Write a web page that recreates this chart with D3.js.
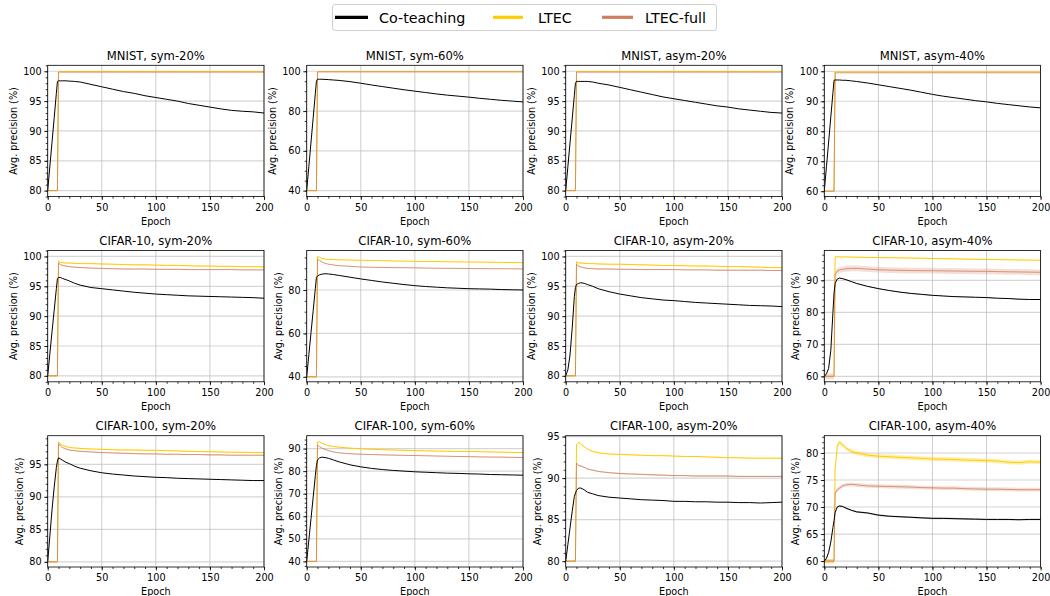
<!DOCTYPE html>
<html><head><meta charset="utf-8">
<script src="https://cdn.jsdelivr.net/npm/d3@7"></script>
<style>body{margin:0;background:#fff} text{font-family:"DejaVu Sans",sans-serif;fill:#000}</style>
</head><body><svg id="c" width="1050" height="596"></svg>
<script>
const seriesNames = ["Co-teaching", "LTEC", "LTEC-full"];
const epochs = [0,2,4,6,8,9,10,12,14,17,20,25,30,40,50,60,70,80,90,100,110,120,130,140,150,160,170,180,190,200];
const panelTitles = ["MNIST, sym-20%","MNIST, sym-60%","MNIST, asym-20%","MNIST, asym-40%",
  "CIFAR-10, sym-20%","CIFAR-10, sym-60%","CIFAR-10, asym-20%","CIFAR-10, asym-40%",
  "CIFAR-100, sym-20%","CIFAR-100, sym-60%","CIFAR-100, asym-20%","CIFAR-100, asym-40%"];
const xTicks = [0,50,100,150,200];
const yLimits = [[79,101],[37,103],[79,101],[58.2,102],[79,101],[37.7,98.2],[79,101],[58.3,99.3],[79.2,99.4],[37.5,95.7],[79.3,95.1],[58.9,83.2]];
const yTicks = [[80,85,90,95,100],[40,60,80,100],[80,85,90,95,100],[60,70,80,90,100],[80,85,90,95,100],[40,60,80],[80,85,90,95,100],[60,70,80,90],[80,85,90,95],[40,50,60,70,80,90],[80,85,90,95],[60,65,70,75,80]];
const yMinorStep = [1,5,1,2,1,5,1,2,1,2,1,1];

const coTeaching = [
 [80,84.1,88.1,92.2,96.3,98.3,98.4,98.4,98.4,98.4,98.35,98.3,98.2,97.8,97.4,97.0,96.6,96.3,95.9,95.6,95.3,95.0,94.6,94.3,94.0,93.7,93.45,93.3,93.2,93.0],
 [40,52.2,64.4,76.7,88.9,95.0,96.0,96.0,96.0,95.9,95.8,95.6,95.4,94.8,94.0,93.1,92.3,91.5,90.7,90.0,89.3,88.6,88.0,87.5,87.0,86.4,85.9,85.4,85.0,84.6],
 [80,84.0,88.0,92.0,96.0,98.0,98.3,98.3,98.3,98.3,98.3,98.2,98.0,97.7,97.3,96.9,96.5,96.1,95.7,95.4,95.1,94.8,94.5,94.2,94.0,93.7,93.5,93.3,93.1,93.0],
 [60,68.2,76.4,84.7,92.9,97.0,97.1,97.1,97.1,97.0,97.0,96.8,96.6,96.1,95.5,94.9,94.3,93.7,93.0,92.3,91.7,91.2,90.7,90.2,89.8,89.3,88.9,88.5,88.1,87.8],
 [80,83.7,87.4,91.0,94.6,96.3,96.5,96.45,96.3,96.1,95.9,95.5,95.2,94.8,94.6,94.4,94.2,94.0,93.85,93.7,93.6,93.5,93.4,93.35,93.3,93.25,93.2,93.15,93.1,93.0],
 [40,50.2,60.4,70.6,80.8,85.8,86.5,87.0,87.3,87.5,87.4,87.1,86.7,85.9,85.1,84.4,83.7,83.1,82.5,82.0,81.6,81.3,81.0,80.8,80.6,80.5,80.4,80.2,80.1,80.0],
 [80,81.0,83.5,88.0,93.3,94.8,95.3,95.5,95.6,95.5,95.3,95.0,94.6,94.1,93.7,93.4,93.1,92.9,92.7,92.6,92.45,92.3,92.2,92.1,92.0,91.9,91.8,91.75,91.7,91.6],
 [60,60.8,62.5,68.0,80.0,86.0,89.0,90.4,90.7,90.5,90.2,89.6,89.0,88.1,87.4,86.8,86.3,85.9,85.6,85.3,85.1,84.9,84.8,84.7,84.6,84.4,84.3,84.1,84.0,84.0],
 [80,84.0,88.0,91.5,94.5,95.5,96.0,95.8,95.6,95.3,95.1,94.7,94.4,94.0,93.7,93.5,93.35,93.2,93.1,93.0,92.95,92.85,92.8,92.75,92.7,92.65,92.6,92.55,92.5,92.5],
 [40,49.5,59.0,68.5,78.0,82.5,85.0,85.9,86.2,86.0,85.7,84.9,84.1,82.8,81.9,81.2,80.7,80.3,80.0,79.7,79.5,79.3,79.1,79.0,78.8,78.7,78.5,78.4,78.3,78.2],
 [80,82.0,84.0,86.0,87.8,88.2,88.5,88.8,88.8,88.6,88.3,88.1,87.9,87.7,87.6,87.5,87.4,87.35,87.3,87.2,87.2,87.15,87.15,87.1,87.1,87.05,87.05,87.0,87.05,87.1],
 [60,60.5,61.6,63.5,66.2,67.5,69.0,70.0,70.2,70.1,69.8,69.4,69.1,68.9,68.5,68.3,68.2,68.1,68.0,67.9,67.9,67.85,67.8,67.75,67.7,67.7,67.7,67.65,67.7,67.7]
];
const ltec = [
 [80,80,80,80,80,80,99.95,99.95,99.95,99.95,99.95,99.95,99.95,99.95,99.95,99.95,99.95,99.95,99.95,99.95,99.95,99.95,99.95,99.95,99.95,99.95,99.95,99.95,99.95,99.95],
 [40,40,40,40,40,40,99.8,99.8,99.8,99.8,99.8,99.8,99.8,99.8,99.8,99.8,99.8,99.8,99.8,99.8,99.8,99.8,99.8,99.8,99.8,99.8,99.8,99.8,99.8,99.8],
 [80,80,80,80,80,80,99.95,99.95,99.95,99.95,99.95,99.95,99.95,99.95,99.95,99.95,99.95,99.95,99.95,99.95,99.95,99.95,99.95,99.95,99.95,99.95,99.95,99.95,99.95,99.95],
 [60,60,60,60,60,60,99.8,99.8,99.8,99.8,99.8,99.8,99.8,99.8,99.8,99.8,99.8,99.8,99.8,99.8,99.8,99.8,99.8,99.8,99.8,99.8,99.8,99.8,99.8,99.8],
 [80,80,80,80,80,80,99.2,99.0,98.95,98.9,98.9,98.85,98.8,98.8,98.75,98.7,98.65,98.6,98.6,98.55,98.5,98.5,98.45,98.4,98.4,98.35,98.35,98.3,98.3,98.25],
 [40,40,40,40,40,40,95.3,95.1,94.5,94.2,94.1,94.0,93.9,93.8,93.7,93.6,93.5,93.4,93.3,93.2,93.15,93.1,93.0,92.95,92.9,92.85,92.8,92.7,92.65,92.6],
 [80,80,80,80,80,80,99.1,98.95,98.9,98.85,98.8,98.8,98.75,98.7,98.7,98.65,98.6,98.55,98.5,98.5,98.45,98.4,98.4,98.35,98.3,98.3,98.25,98.2,98.15,98.1],
 [60,60,60,60,60,60,97.3,97.35,97.35,97.3,97.3,97.25,97.2,97.15,97.1,97.05,97.0,96.95,96.9,96.8,96.75,96.7,96.6,96.55,96.5,96.45,96.4,96.35,96.3,96.25],
 [80,80,80,80,80,80,98.4,98.1,97.9,97.75,97.6,97.5,97.45,97.35,97.3,97.25,97.2,97.2,97.15,97.15,97.1,97.05,97.0,96.95,96.95,96.9,96.85,96.85,96.8,96.8],
 [40,40,40,40,40,40,92.9,93.0,92.4,91.8,91.3,90.9,90.6,90.2,89.9,89.7,89.5,89.35,89.2,89.1,89.0,88.9,88.8,88.75,88.7,88.6,88.5,88.4,88.3,88.2],
 [80,80,80,80,80,80,94.0,94.3,94.1,93.8,93.5,93.2,93.05,92.9,92.85,92.8,92.75,92.7,92.7,92.65,92.6,92.6,92.55,92.5,92.45,92.45,92.4,92.4,92.4,92.4],
 [60,60,60,60,60,60,77.0,81.3,82.0,81.5,80.9,80.3,80.0,79.6,79.4,79.3,79.2,79.1,79.0,78.9,78.85,78.8,78.7,78.65,78.6,78.5,78.3,78.2,78.4,78.3]
];
const ltecFull = [
 [80,80,80,80,80,80,99.85,99.85,99.85,99.85,99.85,99.85,99.85,99.85,99.85,99.85,99.85,99.85,99.85,99.85,99.85,99.85,99.85,99.85,99.85,99.85,99.85,99.85,99.85,99.85],
 [40,40,40,40,40,40,99.7,99.7,99.7,99.7,99.7,99.7,99.7,99.7,99.7,99.7,99.7,99.7,99.7,99.7,99.7,99.7,99.7,99.7,99.7,99.7,99.7,99.7,99.7,99.7],
 [80,80,80,80,80,80,99.85,99.85,99.85,99.85,99.85,99.85,99.85,99.85,99.85,99.85,99.85,99.85,99.85,99.85,99.85,99.85,99.85,99.85,99.85,99.85,99.85,99.85,99.85,99.85],
 [60,60,60,60,60,60,99.5,99.5,99.5,99.5,99.5,99.5,99.5,99.5,99.5,99.5,99.5,99.5,99.5,99.5,99.5,99.5,99.5,99.5,99.5,99.5,99.5,99.5,99.5,99.5],
 [80,80,80,80,80,80,98.9,98.6,98.5,98.4,98.3,98.2,98.15,98.05,98.0,97.95,97.9,97.9,97.9,97.85,97.85,97.85,97.8,97.8,97.8,97.8,97.8,97.75,97.75,97.75],
 [40,40,40,40,40,40,94.2,93.6,92.9,92.3,91.9,91.5,91.2,90.9,90.6,90.5,90.4,90.3,90.25,90.2,90.1,90.05,90.0,89.95,89.9,89.85,89.8,89.8,89.75,89.7],
 [80,80,80,80,80,80,98.7,98.4,98.25,98.1,98.0,97.95,97.9,97.9,97.85,97.85,97.8,97.8,97.8,97.8,97.75,97.75,97.75,97.7,97.7,97.7,97.7,97.7,97.65,97.65],
 [60,60,60,60,60,60,91.8,92.9,93.2,93.4,93.6,93.7,93.7,93.5,93.3,93.2,93.1,93.05,93.0,93.0,92.95,92.9,92.85,92.8,92.8,92.7,92.65,92.6,92.55,92.5],
 [80,80,80,80,80,80,98.2,97.8,97.55,97.35,97.2,97.1,97.0,96.9,96.8,96.75,96.7,96.65,96.6,96.6,96.55,96.55,96.5,96.5,96.45,96.45,96.4,96.4,96.4,96.4],
 [40,40,40,40,40,40,91.5,90.8,90.2,89.6,89.1,88.5,88.1,87.7,87.5,87.35,87.2,87.1,87.0,86.9,86.8,86.7,86.6,86.5,86.4,86.3,86.25,86.2,86.1,86.0],
 [80,80,80,80,80,80,91.8,91.5,91.45,91.3,91.1,90.95,90.8,90.65,90.55,90.5,90.45,90.4,90.35,90.3,90.3,90.25,90.25,90.25,90.25,90.2,90.2,90.2,90.2,90.2],
 [60,60,60,60,60,60,72.5,73.2,73.5,73.9,74.1,74.2,74.1,73.9,73.85,73.8,73.75,73.7,73.6,73.55,73.5,73.5,73.4,73.35,73.3,73.3,73.25,73.2,73.2,73.2]
];
// std-band half widths (per panel) for Co-teaching, LTEC, LTEC-full
const bandCo = [0,0,0,0,0,0,0,0.1,0,0,0,0.15];
const bandLtec = [0,0,0,0,0.08,0.1,0.08,0.15,0.08,0.15,0.06,0.4];
const bandLtecFull = [0,0,0,0,0.08,0.12,0.08,0.9,0.08,0.15,0.08,0.35];

const colors = ["#000000", "#ffcc00", "#cf7f5e"];
const svg = d3.select("#c");
const colLeft = [47.7, 306.7, 565.7, 824.3], rowTop = [65.3, 250.5, 435.7];
const W = 216.3, H = 131.3;
const FS = 9.7;

panelTitles.forEach((title, i) => {
  const g = svg.append("g").attr("transform", `translate(${colLeft[i%4]},${rowTop[Math.floor(i/4)]})`);
  const x = d3.scaleLinear().domain([0,200]).range([0,W]);
  const y = d3.scaleLinear().domain(yLimits[i]).range([H,0]);
  const clipId = "clip" + i;
  g.append("clipPath").attr("id", clipId).append("rect").attr("width", W).attr("height", H);

  // grid
  g.append("g").selectAll("line").data(yTicks[i]).join("line")
    .attr("x1",0).attr("x2",W).attr("y1",d=>y(d)).attr("y2",d=>y(d))
    .attr("stroke","#d6d6d6").attr("stroke-width",1.2);
  g.append("g").selectAll("line").data(xTicks).join("line")
    .attr("y1",0).attr("y2",H).attr("x1",d=>x(d)).attr("x2",d=>x(d))
    .attr("stroke","#c0c0c0").attr("stroke-width",0.8);

  const plot = g.append("g").attr("clip-path", `url(#${clipId})`);
  const sets = [[coTeaching[i], bandCo[i]], [ltec[i], bandLtec[i]], [ltecFull[i], bandLtecFull[i]]];
  const order = [1,2,0];
  // bands
  order.forEach(k => {
    const [vals, b] = sets[k];
    if (b > 0) {
      const area = d3.area().x((d,j)=>x(epochs[j])).y0(d=>y(d-b)).y1(d=>y(d+b));
      plot.append("path").attr("d", area(vals)).attr("fill", colors[k]).attr("opacity", k===1?0.3:0.25);
    }
  });
  order.forEach(k => {
    const [vals] = sets[k];
    const line = d3.line().x((d,j)=>x(epochs[j])).y(d=>y(d));
    plot.append("path").attr("d", line(vals)).attr("fill","none")
      .attr("stroke", colors[k]).attr("stroke-width", 1)
      .attr("stroke-opacity", k===2 ? 0.8 : 1);
  });

  // spines
  g.append("rect").attr("width",W).attr("height",H).attr("fill","none").attr("stroke","#000").attr("stroke-width",0.8);

  // x axis
  const xMinor = d3.range(0, 201, 10);
  const xa = g.append("g").attr("transform",`translate(0,${H})`)
    .call(d3.axisBottom(x).tickValues(xMinor).tickSize(2).tickFormat(""));
  xa.select(".domain").remove();
  const xb = g.append("g").attr("transform",`translate(0,${H})`)
    .call(d3.axisBottom(x).tickValues(xTicks).tickSize(3.5).tickPadding(4).tickFormat(d3.format("d")));
  xb.select(".domain").remove();
  xb.selectAll("text").attr("font-size", FS).attr("font-family","DejaVu Sans");
  g.selectAll(".tick line").attr("stroke-width",0.8);

  // y axis
  const [lo, hi] = yLimits[i], st = yMinorStep[i];
  const yMinor = d3.range(Math.ceil(lo/st)*st, hi + 1e-9, st);
  const ya = g.append("g").call(d3.axisLeft(y).tickValues(yMinor).tickSize(2).tickFormat(""));
  ya.select(".domain").remove();
  const yb = g.append("g").call(d3.axisLeft(y).tickValues(yTicks[i]).tickSize(3.5).tickPadding(2.5).tickFormat(d3.format("d")));
  yb.select(".domain").remove();
  yb.selectAll("text").attr("font-size", FS).attr("font-family","DejaVu Sans");
  g.selectAll(".tick line").attr("stroke-width",0.8);
  let maxW = 0;
  yb.selectAll("text").each(function(){ maxW = Math.max(maxW, this.getComputedTextLength()); });

  g.append("text").attr("transform", `translate(${-(maxW + 6 + 6.7)},${H/2}) rotate(-90)`)
    .attr("text-anchor","middle").attr("font-size", FS).text("Avg. precision (%)");
  g.append("text").attr("x", W/2).attr("y", H + 28.3).attr("text-anchor","middle")
    .attr("font-size", FS).text("Epoch");
  g.append("text").attr("x", W/2).attr("y", -5.6).attr("text-anchor","middle")
    .attr("font-size", 11.6).text(title);
});

// legend
const lg = svg.append("g");
lg.append("rect").attr("x",332.5).attr("y",4.5).attr("width",384).attr("height",26).attr("rx",2.5)
  .attr("fill","#fff").attr("stroke","#d0d0d0").attr("stroke-width",1);
const legX = [[335,368,379],[493,523,538],[602,633,645]];
seriesNames.forEach((n,k) => {
  lg.append("line").attr("x1",legX[k][0]).attr("x2",legX[k][1]).attr("y1",17.3).attr("y2",17.3)
    .attr("stroke",colors[k]).attr("stroke-width",3.2);
  lg.append("text").attr("x",legX[k][2]).attr("y",22.5).attr("font-size",14.3).text(n);
});
</script>
</body></html>
